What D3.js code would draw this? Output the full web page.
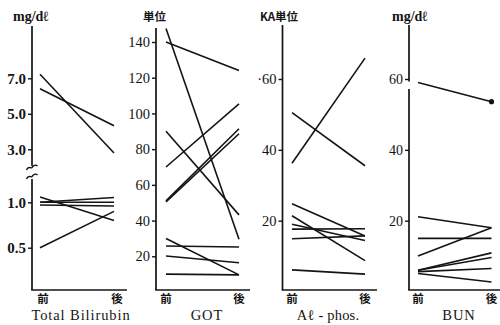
<!DOCTYPE html>
<html><head><meta charset="utf-8">
<script src="https://cdn.jsdelivr.net/npm/d3@7"></script>
<style>
body{margin:0;background:#fff;}
svg{display:block;}
</style></head>
<body>
<svg id="chart" width="500" height="325"></svg>
<script>
// ---- data ----
const phases = ["前", "後"];

const bilirubinBefore = [7.23, 6.41, 1.0, 1.0, 0.97, 1.2, 0.5];
const bilirubinAfter  = [2.86, 4.33, 1.18, 1.0, 0.96, 0.8, 0.9];
const bilirubinTicks  = [0.5, 1.0, 3.0, 5.0, 7.0];

const gotBefore = [147.5, 140, 90, 70, 51, 50.5, 30, 25.8, 20.2, 10];
const gotAfter  = [29.6, 124, 43.2, 105.4, 91.4, 88.6, 9.6, 25.2, 16.4, 9.6];
const gotTicks  = [20, 40, 60, 80, 100, 120, 140];

const alphosBefore = [36.2, 50.5, 24.8, 21.4, 19.0, 17.6, 14.9, 6.1];
const alphosAfter  = [65.9, 35.5, 15.7, 8.7, 14.4, 17.7, 15.7, 4.9];
const alphosTicks  = [20, 40, 60];
const alphosTickLabels = ["20", "40", "·60"];

const bunBefore = [59.0, 21.1, 10.0, 15.0, 6.0, 6.0, 5.6, 5.1];
const bunAfter  = [53.6, 18.0, 18.0, 15.0, 10.9, 9.6, 6.5, 2.7];
const bunTicks  = [20, 40, 60];
const bunMarked = [true, false, false, false, false, false, false, false];

const units  = ["mg/dℓ", "単位", "KA単位", "mg/dℓ"];
const titles = ["Total Bilirubin", "GOT", "Aℓ - phos.", "BUN"];

// ---- drawing ----
const svg = d3.select("#chart");
const INK = "#141414";
const BOTTOM = 290;

function drawPanel(p) {
  const g = svg.append("g");
  const x = d3.scalePoint().domain(phases).range([p.axisX + p.x0, p.axisX + p.x1]);
  const y = p.y;

  const segs = p.gaps ? p.gaps : [[p.axisTop, BOTTOM]];
  segs.forEach(s => {
    g.append("line").attr("x1", p.axisX).attr("x2", p.axisX)
      .attr("y1", s[0]).attr("y2", s[1])
      .attr("stroke", INK).attr("stroke-width", 1.7);
  });
  g.append("line").attr("x1", p.axisX - 0.8).attr("x2", p.xEnd)
    .attr("y1", BOTTOM).attr("y2", BOTTOM)
    .attr("stroke", INK).attr("stroke-width", 1.7);

  const ax = d3.axisLeft(y).tickValues(p.ticks).tickSize(4).tickSizeOuter(0).tickPadding(2)
    .tickFormat((d, i) => p.tickLabels[i]);
  const axg = g.append("g").attr("transform", `translate(${p.axisX},0)`).call(ax);
  axg.select(".domain").remove();
  axg.selectAll(".tick line").attr("stroke", INK).attr("stroke-width", 1.4);
  axg.selectAll(".tick text")
    .attr("fill", INK)
    .style("font-family", "'Liberation Serif','DejaVu Serif',serif")
    .style("font-size", p.tickSize + "px")
    .style("font-weight", p.tickBold ? "bold" : "normal");

  p.before.forEach((b, i) => {
    g.append("line")
      .attr("x1", x("前")).attr("y1", y(b))
      .attr("x2", x("後")).attr("y2", y(p.after[i]))
      .attr("stroke", INK).attr("stroke-width", 1.6);
    if (p.marked && p.marked[i]) {
      g.append("circle").attr("cx", x("後")).attr("cy", y(p.after[i]))
        .attr("r", 2.6).attr("fill", INK);
    }
  });

  phases.forEach(ph => {
    g.append("text").attr("x", x(ph) + (p.labelShift || 0)).attr("y", 303)
      .attr("text-anchor", "middle")
      .style("font-family", "'Noto Sans CJK JP',sans-serif")
      .style("font-size", "11.5px").style("font-weight", "bold")
      .attr("fill", INK).text(ph);
  });

  g.append("text").attr("x", p.unitX).attr("y", 21)
    .style("font-family", p.unitCJK ? "'Noto Sans CJK JP',sans-serif" : "'Liberation Serif','DejaVu Serif',serif")
    .style("font-size", p.unitCJK ? "11.5px" : "14px")
    .style("font-weight", "bold")
    .attr("fill", INK).text(p.unit);

  g.append("text").attr("x", p.titleX).attr("y", 320)
    .attr("text-anchor", "middle")
    .style("font-family", "'Liberation Serif','DejaVu Serif',serif")
    .style("font-size", "14.5px").style("letter-spacing", (p.titleSpacing || 0.9) + "px")
    .attr("fill", INK).text(p.title);
  return g;
}

const yBili = d3.scaleLinear().domain([0.5, 1.0, 3.0, 7.0]).range([247.7, 202.3, 149.3, 78.3]);
const g1 = drawPanel({
  axisX: 32, axisTop: 26, xEnd: 127, x0: 8, x1: 82, labelShift: 3,
  y: yBili, before: bilirubinBefore, after: bilirubinAfter,
  ticks: bilirubinTicks, tickLabels: bilirubinTicks.map(d3.format(".1f")),
  tickSize: 15, tickBold: true,
  gaps: [[26, 166], [179, BOTTOM]],
  unit: units[0], unitX: 13, title: titles[0], titleX: 81
});
g1.append("path").attr("d", "M26.5,170 C28.5,165 31,169 32,167.5 S35.5,164 37.5,166")
  .attr("fill", "none").attr("stroke", INK).attr("stroke-width", 1.4);
g1.append("path").attr("d", "M26.5,179 C28.5,174 31,178 32,176.5 S35.5,173 37.5,175")
  .attr("fill", "none").attr("stroke", INK).attr("stroke-width", 1.4);

const yGOT = d3.scaleLinear().domain([0, 140]).range([292, 42]);
drawPanel({
  axisX: 156, axisTop: 28, xEnd: 250, x0: 10, x1: 83,
  y: yGOT, before: gotBefore, after: gotAfter,
  ticks: gotTicks, tickLabels: gotTicks.map(String),
  tickSize: 14.5, tickBold: false,
  unit: units[1], unitX: 143, unitCJK: true, title: titles[1], titleX: 207
});

const yAlp = d3.scaleLinear().domain([0, 60]).range([291.5, 79]);
drawPanel({
  axisX: 282.5, axisTop: 25, xEnd: 377, x0: 9.5, x1: 82.5,
  y: yAlp, before: alphosBefore, after: alphosAfter,
  ticks: alphosTicks, tickLabels: alphosTickLabels,
  tickSize: 14.5, tickBold: false,
  unit: units[2], unitX: 260, unitCJK: true, title: titles[2], titleX: 328, titleSpacing: 0.2
});

const yBun = d3.scaleLinear().domain([0, 60]).range([291.5, 79]);
drawPanel({
  axisX: 409, axisTop: 25, xEnd: 500, x0: 9, x1: 82.5,
  y: yBun, before: bunBefore, after: bunAfter, marked: bunMarked,
  ticks: bunTicks, tickLabels: bunTicks.map(String),
  tickSize: 14, tickBold: false,
  gaps: [[25, 81.5], [89, BOTTOM]],
  unit: units[3], unitX: 392, title: titles[3], titleX: 459
});
</script>
</body></html>
